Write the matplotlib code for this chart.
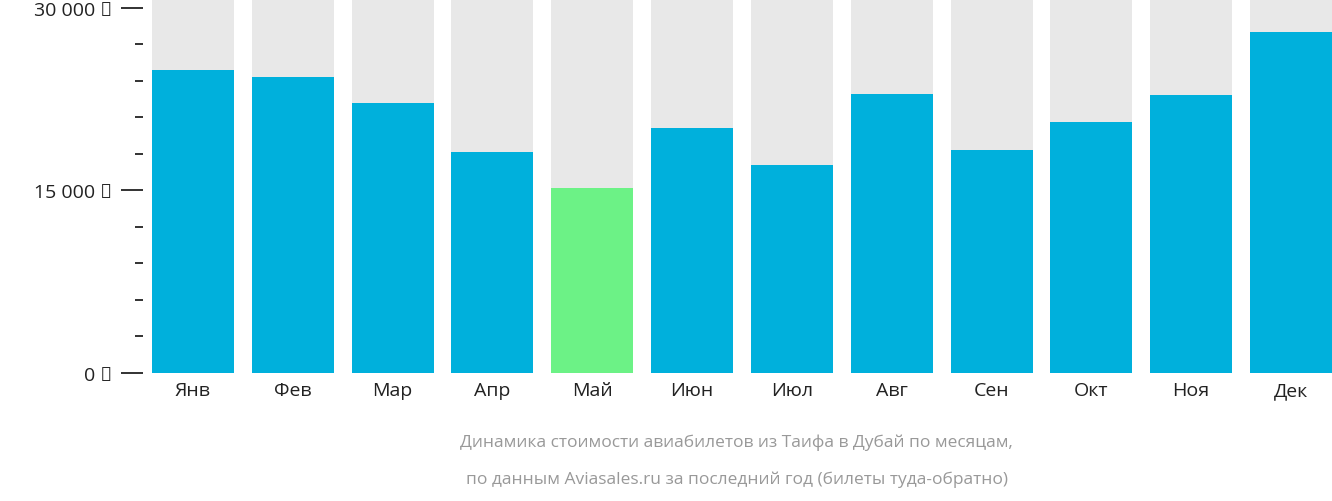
import matplotlib
matplotlib.use("Agg")
import matplotlib.pyplot as plt
from matplotlib.ticker import MultipleLocator

months = ["Янв","Фев","Мар","Апр","Май","Июн","Июл","Авг","Сен","Окт","Ноя","Дек"]
prices = [24860, 24300, 22130, 18120, 15160, 20130, 17080, 22940, 18290, 20610, 22860, 27990]
tick_labels = ["0 ₽", "15 000 ₽", "30 000 ₽"]
tick_values = [0, 15000, 30000]
ymax = 30700
cheapest = prices.index(min(prices))

plt.rcParams["font.family"] = "Open Sans"
fig = plt.figure(figsize=(13.32, 5.02), dpi=100)
ax = fig.add_axes([143/1332, 128/502, 1 - 143/1332, 374/502])
x = list(range(len(months)))
ax.bar(x, [ymax]*len(x), width=0.82, color="#e8e8e8")
colors = ["#6cf286" if i == cheapest else "#00b0dc" for i in x]
ax.bar(x, prices, width=0.82, color=colors)
ax.set_xlim(-0.5, 11.41)
ax.set_ylim(0, ymax)
for s in ax.spines.values():
    s.set_visible(False)
ax.set_yticks(tick_values)
ax.set_yticklabels(tick_labels, fontsize=14, color="#222222")
ax.yaxis.set_minor_locator(MultipleLocator(3000))
ax.tick_params(axis="y", which="major", length=16, width=1.3, color="#222222", pad=6)
ax.tick_params(axis="y", which="minor", length=6, width=1.3, color="#222222")
ax.set_xticks(x)
ax.set_xticklabels(months, fontsize=14, color="#222222")
ax.tick_params(axis="x", length=0, pad=6)
fig.text(0.553, 1-443/502, "Динамика стоимости авиабилетов из Таифа в Дубай по месяцам,",
         ha="center", va="center", fontsize=12.5, color="#999999")
fig.text(0.553, 1-480/502, "по данным Aviasales.ru за последний год (билеты туда-обратно)",
         ha="center", va="center", fontsize=12.5, color="#999999")
fig.savefig("out.png", dpi=100)
